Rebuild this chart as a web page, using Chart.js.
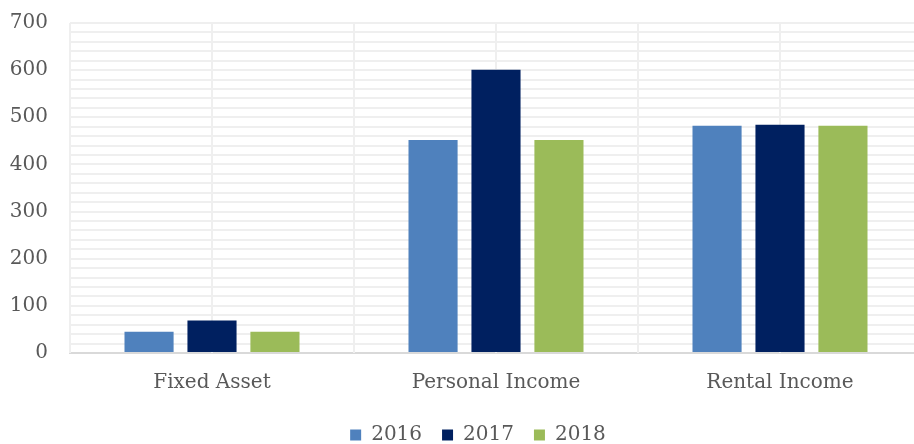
<!DOCTYPE html>
<html>
<head>
<meta charset="utf-8">
<script src="https://cdn.jsdelivr.net/npm/chart.js@4"></script>
<style>
  html, body { margin: 0; padding: 0; background: #fff; overflow: hidden; }
  #wrap { width: 922px; height: 466px; margin-top: -11px; }
</style>
</head>
<body>
<div id="wrap"><canvas id="BarChart"></canvas></div>
<script>
const categories = ["Fixed Asset", "Personal Income", "Rental Income"];
const years = ["2016", "2017", "2018"];
const values2016 = [45, 452, 482];
const values2017 = [69, 601, 484];
const values2018 = [45, 452, 482];
const yTicks = [0, 100, 200, 300, 400, 500, 600, 700];

const colorTemp = ["#4F81BD", "#002060", "#9BBB59"];
const fontFamily = "'DejaVu Serif', serif";
const textColor = "#595959";
const gridColor = "#EFEFEF";

const seriesValues = [values2016, values2017, values2018];

function getDataSetItemConfig(data, index) {
  return {
    label: years[index],
    data: data,
    backgroundColor: colorTemp[index],
    borderWidth: 0,
    categoryPercentage: 0.665,
    barPercentage: 0.78,
  };
}

// vertical grid lines at category centres and boundaries
const categoryGridPlugin = {
  id: "categoryGrid",
  beforeDatasetsDraw(chart) {
    const { ctx, chartArea, scales } = chart;
    const x = scales.x;
    const xs = [];
    for (let i = 0; i < categories.length; i++) {
      const c = x.getPixelForValue(i);
      const half = x.getPixelForValue(1) - x.getPixelForValue(0);
      xs.push(c - half / 2, c);
      if (i === categories.length - 1) xs.push(c + half / 2);
    }
    ctx.save();
    ctx.strokeStyle = gridColor;
    ctx.lineWidth = 2;
    xs.forEach((px) => {
      ctx.beginPath();
      ctx.moveTo(px, chartArea.top);
      ctx.lineTo(px, chartArea.bottom);
      ctx.stroke();
    });
    ctx.restore();
  },
  afterLayout(chart) {
    // nudge legend right, as in the original
    chart.legend.left += 17;
    chart.legend.right += 17;
  },
};

const chartConfig = {
  type: "bar",
  data: {
    labels: categories,
    datasets: seriesValues.map(getDataSetItemConfig),
  },
  options: {
    responsive: true,
    maintainAspectRatio: false,
    animation: false,
    layout: {
      padding: { top: 6, left: 0, right: 0, bottom: 0 },
    },
    scales: {
      x: {
        offset: true,
        grid: { display: false },
        border: { display: true, color: "#D9D9D9", width: 2 },
        ticks: {
          color: textColor,
          padding: 10,
          font: { family: fontFamily, size: 20 },
        },
      },
      y: {
        min: 0,
        max: 700,
        grid: { color: gridColor, lineWidth: 2, drawTicks: false },
        border: { display: false },
        ticks: {
          stepSize: 20,
          autoSkip: false,
          padding: 22,
          color: textColor,
          font: { family: fontFamily, size: 20 },
          callback: function (val) {
            return yTicks.includes(val) ? String(val) : "";
          },
        },
        afterFit: (scale) => { scale.width = 70; },
      },
    },
    plugins: {
      legend: {
        position: "bottom",
        labels: {
          color: textColor,
          boxWidth: 11,
          boxHeight: 11,
          padding: 20,
          font: { family: fontFamily, size: 20 },
        },
      },
      tooltip: { enabled: false },
    },
  },
  plugins: [categoryGridPlugin],
};

const ctx = document.getElementById("BarChart");
new Chart(ctx, chartConfig);
</script>
</body>
</html>
